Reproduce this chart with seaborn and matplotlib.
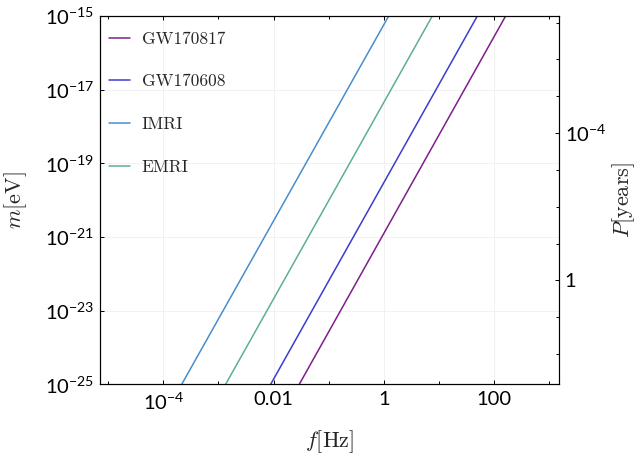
import numpy as np
import pandas as pd
import matplotlib.pyplot as plt
import seaborn as sns
from matplotlib.ticker import FixedLocator, FixedFormatter, NullLocator, NullFormatter

# Series: straight lines m ~ f^(8/3); frequency where each crosses m = 1e-25 and m = 1e-15 eV
sources = ["GW170817", "GW170608", "IMRI", "EMRI"]
colors = ["#7d1f8a", "#3c3cd0", "#4a8ccc", "#5faf8c"]
mass_ends = [1e-25, 1e-15]
f_at_mass_lo = [0.0292, 8.85e-3, 2.16e-4, 1.35e-3]
f_at_mass_hi = [160.7, 49.3, 1.22, 7.53]

# Axes ticks and labels
x_major = [1e-4, 1e-2, 1, 100]
x_major_labels = [r"$\mathsf{10^{-4}}$", "0.01", "1", "100"]
x_minor = [1e-5, 1e-3, 1e-1, 10, 1e3]
y_major = [1e-25, 1e-23, 1e-21, 1e-19, 1e-17, 1e-15]
y_major_labels = [r"$\mathsf{10^{-25}}$", r"$\mathsf{10^{-23}}$", r"$\mathsf{10^{-21}}$",
                  r"$\mathsf{10^{-19}}$", r"$\mathsf{10^{-17}}$", r"$\mathsf{10^{-15}}$"]
p_major = [1e-4, 1]
p_major_labels = [r"$\mathsf{10^{-4}}$", "1"]
p_minor = [1e-7, 1e-6, 1e-5, 1e-3, 1e-2, 1e-1, 10, 100]

x_limits = (7.13e-6, 1.49e3)
m_limits = (1e-25, 1e-15)
p_limits = (660, 6.6e-8)   # P[years] at m = 1e-25 and m = 1e-15

sns.set_style("ticks")
plt.rcParams["font.family"] = ["Lato", "DejaVu Sans"]
plt.rcParams["mathtext.fontset"] = "custom"
plt.rcParams["mathtext.rm"] = "cmr10"
plt.rcParams["mathtext.it"] = "cmmi10"
plt.rcParams["mathtext.sf"] = "Lato"
plt.rcParams["axes.unicode_minus"] = True

rows = []
for name, flo, fhi in zip(sources, f_at_mass_lo, f_at_mass_hi):
    rows.append({"source": name, "f": flo, "m": mass_ends[0]})
    rows.append({"source": name, "f": fhi, "m": mass_ends[1]})
df = pd.DataFrame(rows)

fig = plt.figure(figsize=(6.4, 4.57), dpi=100)
ax = fig.add_axes([100 / 640, 1 - 384.3 / 457, 459 / 640, 368.3 / 457])
ax.set_xscale("log")
ax.set_yscale("log")

sns.lineplot(data=df, x="f", y="m", hue="source", hue_order=sources,
             palette=colors, linewidth=1.1, sort=False, ax=ax)

ax.set_xlim(*x_limits)
ax.set_ylim(*m_limits)

ax.xaxis.set_major_locator(FixedLocator(x_major))
ax.xaxis.set_major_formatter(FixedFormatter(x_major_labels))
ax.xaxis.set_minor_locator(FixedLocator(x_minor))
ax.xaxis.set_minor_formatter(NullFormatter())
ax.yaxis.set_major_locator(FixedLocator(y_major))
ax.yaxis.set_major_formatter(FixedFormatter(y_major_labels))
ax.yaxis.set_minor_locator(NullLocator())

ax.tick_params(which="both", direction="in", top=True, right=False,
               labelsize=14.5, colors="black", width=0.7)
ax.tick_params(which="major", length=3.2, pad=5)
ax.tick_params(which="minor", length=2.2)
ax.tick_params(axis="y", pad=4)
ax.grid(True, which="major", color="#efefef", linewidth=0.6)

for sp in ax.spines.values():
    sp.set_linewidth(0.8)
    sp.set_color("black")

ax.set_xlabel(r"$f[\mathrm{Hz}]$", fontsize=16)
ax.set_ylabel(r"$m[\mathrm{eV}]$", fontsize=16)
ax.xaxis.set_label_coords(0.5, -0.12)
ax.yaxis.set_label_coords(-0.155, 0.5)

# right axis: period
ax2 = ax.twinx()
ax2.set_yscale("log")
ax2.set_ylim(*p_limits)
ax2.yaxis.set_major_locator(FixedLocator(p_major))
ax2.yaxis.set_major_formatter(FixedFormatter(p_major_labels))
ax2.yaxis.set_minor_locator(FixedLocator(p_minor))
ax2.yaxis.set_minor_formatter(NullFormatter())
ax2.tick_params(which="both", direction="in", labelsize=14.5, colors="black", width=0.7)
ax2.tick_params(which="major", length=3.2, pad=4)
ax2.tick_params(which="minor", length=2.2)
ax2.set_ylabel(r"$P[\mathrm{years}]$", fontsize=16)
ax2.yaxis.set_label_coords(1.112, 0.5)
for sp in ax2.spines.values():
    sp.set_linewidth(0.8)
    sp.set_color("black")

# legend
old = ax.get_legend()
handles = old.legend_handles
labels = [t.get_text() for t in old.get_texts()]
old.remove()
for h in handles:
    h.set_linewidth(1.1)
ax.legend(handles, labels, loc="upper left", bbox_to_anchor=(0, 0.982),
          frameon=False, prop={"family": "cmr10", "size": 12.5},
          labelspacing=1.58, handlelength=1.25, handletextpad=0.65,
          borderaxespad=0, borderpad=0.5)

fig.savefig("out.png", dpi=100)
